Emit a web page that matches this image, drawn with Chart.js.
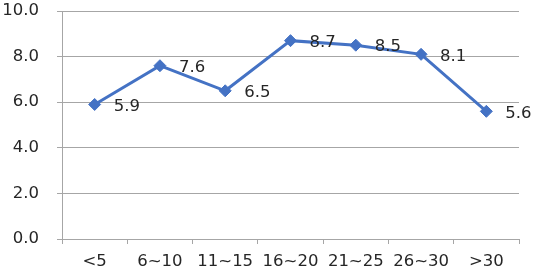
<!DOCTYPE html>
<html>
<head>
<meta charset="utf-8">
<script src="https://cdn.jsdelivr.net/npm/chart.js@4/dist/chart.umd.min.js"></script>
<style>
  html, body { margin: 0; padding: 0; background: #fff; }
  #wrap { width: 536px; height: 273px; }
</style>
</head>
<body>
<div id="wrap"><canvas id="chart"></canvas></div>
<script>
// data
const categories = ['<5', '6~10', '11~15', '16~20', '21~25', '26~30', '>30'];
const values = [5.9, 7.6, 6.5, 8.7, 8.5, 8.1, 5.6];
const yTicks = [0, 2, 4, 6, 8, 10];

const FONT = '"DejaVu Sans", Verdana, sans-serif';
const FSIZE = 16.5;
const BLUE = '#4472C4';
const GRID = '#a6a6a6';
const TEXT = '#262626';

// value labels to the right of each marker
const valueLabels = {
    id: 'valueLabels',
    afterDatasetsDraw(chart) {
        const ctx = chart.ctx;
        const meta = chart.getDatasetMeta(0);
        ctx.save();
        ctx.font = FSIZE + 'px ' + FONT;
        ctx.fillStyle = TEXT;
        ctx.textAlign = 'left';
        ctx.textBaseline = 'middle';
        meta.data.forEach((pt, i) => {
            ctx.fillText(values[i].toFixed(1), pt.x + 19, pt.y + 2);
        });
        ctx.restore();
    }
};

new Chart(document.getElementById('chart'), {
    type: 'line',
    data: {
        labels: categories,
        datasets: [{
            data: values,
            borderColor: BLUE,
            backgroundColor: BLUE,
            borderWidth: 3,
            pointStyle: 'rectRot',
            pointRadius: 6,
            pointBorderWidth: 1,
            pointBackgroundColor: BLUE,
            pointBorderColor: BLUE,
            tension: 0
        }]
    },
    options: {
        responsive: true,
        maintainAspectRatio: false,
        animation: false,
        layout: { padding: { top: 11, right: 17, left: 0, bottom: 0 } },
        plugins: {
            legend: { display: false },
            tooltip: { enabled: false }
        },
        scales: {
            x: {
                offset: true,
                grid: {
                    offset: true,
                    drawOnChartArea: false,
                    drawTicks: true,
                    tickLength: 5,
                    color: GRID
                },
                border: { color: GRID, width: 1 },
                ticks: {
                    color: TEXT,
                    font: { family: FONT, size: FSIZE },
                    padding: 8,
                    maxRotation: 0,
                    autoSkip: false
                },
                afterFit: s => {
                    s.height = 34;
                    s.paddingLeft = 0;
                    s.paddingRight = 0;
                }
            },
            y: {
                min: 0,
                max: 10,
                afterBuildTicks: s => { s.ticks = yTicks.map(v => ({ value: v })); },
                grid: { color: GRID, tickLength: 5 },
                border: { color: GRID, width: 1 },
                ticks: {
                    color: TEXT,
                    font: { family: FONT, size: FSIZE },
                    padding: 18,
                    callback: v => Number(v).toFixed(1)
                },
                afterFit: s => {
                    s.width = 62;
                    s.paddingTop = 0;
                    s.paddingBottom = 0;
                }
            }
        }
    },
    plugins: [valueLabels]
});
</script>
</body>
</html>
